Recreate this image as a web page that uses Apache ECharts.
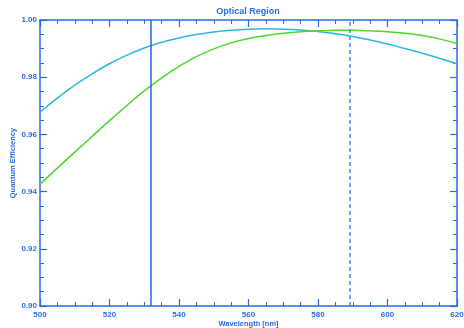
<!DOCTYPE html>
<html><head><meta charset="utf-8">
<script src="https://cdn.jsdelivr.net/npm/echarts@6/dist/echarts.min.js"></script>
<style>html,body{margin:0;padding:0;background:#fff}#c{width:464px;height:328px}</style>
</head><body><div id="c"></div>
<script>
const wavelengths = [500,505,510,515,520,525,530,535,540,545,550,555,560,565,570,575,580,585,590,595,600,605,610,615,620];
const cyanQE = [0.9678,0.9727,0.9772,0.9812,0.9847,0.9877,0.9902,0.9922,0.9937,0.9949,0.9958,0.9964,0.9968,0.9969,0.9968,0.9965,0.9960,0.9952,0.9942,0.9930,0.9916,0.9900,0.9884,0.9866,0.9846];
const greenQE = [0.9426,0.9482,0.9538,0.9593,0.9648,0.9701,0.9752,0.9798,0.9838,0.9872,0.9899,0.9920,0.9935,0.9946,0.9954,0.9959,0.9962,0.9964,0.9964,0.9962,0.9959,0.9954,0.9946,0.9934,0.9918];
const solidLineX = 532;
const dashedLineX = 589;
const xTicks = [500,520,540,560,580,600,620];
const yTicks = [0.90,0.92,0.94,0.96,0.98,1.00];

const blue = '#2a6ae6';
const fam = '"Liberation Sans", Arial, sans-serif';
const font = {color: blue, fontSize: 8, fontWeight: 'bold', fontFamily: fam};
function pairs(xs, ys){ return xs.map((x,i)=>[x,ys[i]]); }
const baseX = {type:'value', min:500, max:620, interval:20, splitLine:{show:false},
  axisLine:{show:true, onZero:false, lineStyle:{color:blue, width:1.5}},
  axisTick:{show:true, inside:true, length:7, lineStyle:{color:blue, width:1.2}},
  minorTick:{show:true, splitNumber:4, length:4, lineStyle:{color:blue, width:1}}};
const baseY = {type:'value', min:0.90, max:1.00, interval:0.02, splitLine:{show:false},
  axisLine:{show:true, onZero:false, lineStyle:{color:blue, width:1.5}},
  axisTick:{show:true, inside:true, length:7, lineStyle:{color:blue, width:1.2}},
  minorTick:{show:true, splitNumber:4, length:4, lineStyle:{color:blue, width:1}}};

const chart = echarts.init(document.getElementById('c'), null, {renderer:'canvas'});
chart.setOption({
  animation:false,
  backgroundColor:'#fff',
  title:{text:'Optical Region', left:248, top:7, textAlign:'center', padding:0,
    textStyle:{color:blue, fontSize:9, fontWeight:'bold', fontFamily:fam}},
  grid:{left:40, right:7, top:20, bottom:22, containLabel:false, outerBoundsMode:'none'},
  xAxis:[
    Object.assign({}, baseX, {position:'bottom', name:'Wavelength [nm]', nameLocation:'middle', nameGap:14,
      nameMoveOverlap:false,
      nameTextStyle:Object.assign({}, font, {fontSize:7.5}),
      axisLabel:Object.assign({}, font, {margin:5, formatter:v=>xTicks.includes(v)?String(v):''})}),
    Object.assign({}, baseX, {position:'top', axisLabel:{show:false}})
  ],
  yAxis:[
    Object.assign({}, baseY, {position:'left', name:'Quantum Efficiency', nameLocation:'middle', nameGap:23,
      nameMoveOverlap:false,
      nameTextStyle:Object.assign({}, font, {fontSize:7.5}),
      axisLabel:Object.assign({}, font, {margin:3, formatter:v=>{const t=yTicks.find(y=>Math.abs(y-v)<1e-6);return t!==undefined?t.toFixed(2):'';}})}),
    Object.assign({}, baseY, {position:'right', axisLabel:{show:false}})
  ],
  series:[
    {type:'line', data:pairs(wavelengths, cyanQE), smooth:0.4, showSymbol:false,
      lineStyle:{color:'#2bb8e0', width:1.5}, z:3},
    {type:'line', data:pairs(wavelengths, greenQE), smooth:0.4, showSymbol:false,
      lineStyle:{color:'#4cd82a', width:1.5}, z:3,
      markLine:{silent:true, symbol:'none', label:{show:false},
        data:[
          {xAxis:solidLineX, lineStyle:{color:'#2266dd', width:1.5, type:'solid'}},
          {xAxis:dashedLineX, lineStyle:{color:'#4a86ec', width:1.5, type:[4,3]}}
        ]}}
  ]
});
</script></body></html>
